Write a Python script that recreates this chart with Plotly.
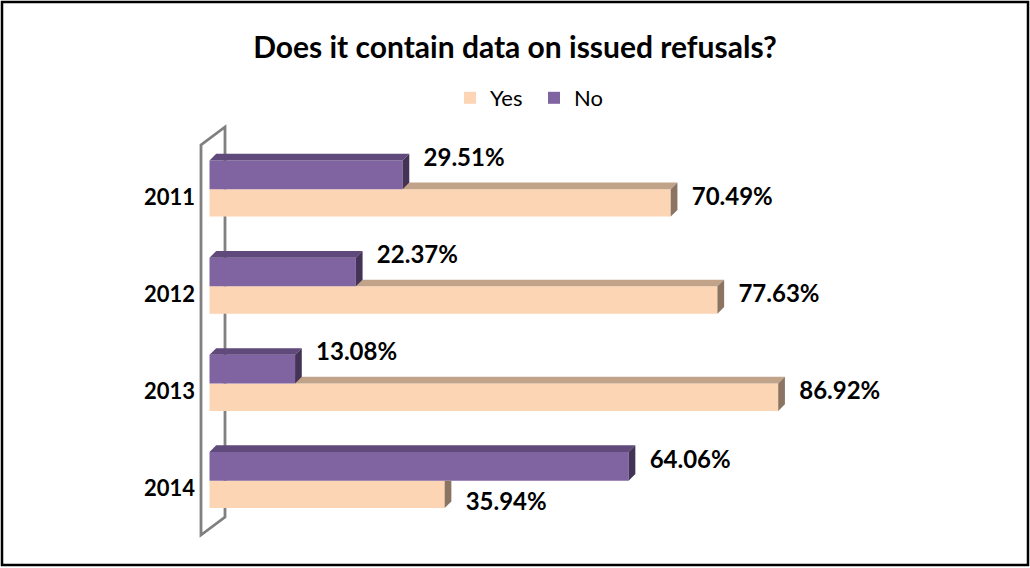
import plotly.graph_objects as go

# data
years = ["2011", "2012", "2013", "2014"]
yes = [70.49, 77.63, 86.92, 35.94]
no = [29.51, 22.37, 13.08, 64.06]

# colours
YES_FRONT, YES_TOP, YES_SIDE = "#FCD5B5", "#C1A38A", "#8B7562"
NO_FRONT, NO_TOP, NO_SIDE = "#8064A2", "#604A7B", "#433356"
FONT = "Lato"

# geometry (pixels)
W, H = 1030, 568
ML, MR, MT, MB = 196, 30, 92, 29
X0_PX = 209.5          # pixel where 0% sits
PX_X = 6.543           # px per percent
YTOP, YBOT = -1.0, 3.6
PX_Y = (H - MT - MB) / (YBOT - YTOP)
xmin = -(X0_PX - ML) / PX_X
xmax = xmin + (W - ML - MR) / PX_X

dx = 6.7 / PX_X        # 3d depth
dy = 6.7 / PX_Y
hn = 0.295             # bar thickness (No, above)
hy = 0.282             # bar thickness (Yes, below)

pos = list(range(len(years)))

fig = go.Figure()

fig.add_trace(go.Bar(name="Yes", orientation="h", y=pos, x=yes, width=hy, offset=0,
                     marker=dict(color=YES_FRONT, line=dict(width=0)), hoverinfo="skip"))
fig.add_trace(go.Bar(name="No", orientation="h", y=pos, x=no, width=hn, offset=-hn,
                     marker=dict(color=NO_FRONT, line=dict(width=0)), hoverinfo="skip"))


def poly_trace(xs, ys, color):
    return go.Scatter(x=xs, y=ys, mode="lines", fill="toself", fillcolor=color,
                      line=dict(width=0, color=color), showlegend=False, hoverinfo="skip")


# 3d faces, computed from the values
yt_x, yt_y, ys_x, ys_y = [], [], [], []
nt_x, nt_y, ns_x, ns_y = [], [], [], []
for p, v, n in zip(pos, yes, no):
    if n < v:
        yt_x += [n, v, v + dx, n, n, None]
        yt_y += [p, p, p - dy, p - dy, p, None]
        ys_x += [v, v + dx, v + dx, v, v, None]
        ys_y += [p, p - dy, p + hy - dy, p + hy, p, None]
    else:
        ys_x += [v, v + dx, v + dx, v, v, None]
        ys_y += [p, p, p + hy - dy, p + hy, p, None]
    top = p - hn
    nt_x += [0, n, n + dx, dx, 0, None]
    nt_y += [top, top, top - dy, top - dy, top, None]
    ns_x += [n, n + dx, n + dx, n, n, None]
    ns_y += [top, top - dy, p - dy, p, top, None]

fig.add_trace(poly_trace(yt_x, yt_y, YES_TOP))
fig.add_trace(poly_trace(ys_x, ys_y, YES_SIDE))
fig.add_trace(poly_trace(nt_x, nt_y, NO_TOP))
fig.add_trace(poly_trace(ns_x, ns_y, NO_SIDE))

# data labels
gap = 21 / PX_X
lab_no_y, lab_yes_y = [], []
for p, v, n in zip(pos, yes, no):
    cy_n = p - hn / 2 - 4 / PX_Y
    cy_y = p + hy / 2 - 4 / PX_Y
    if n < v:
        cy_n -= 11 / PX_Y
    else:
        cy_y += 14 / PX_Y
    lab_no_y.append(cy_n)
    lab_yes_y.append(cy_y)

lab_font = dict(family=FONT, size=24, color="black", weight="bold")
fig.add_trace(go.Scatter(x=[n + gap for n in no], y=lab_no_y, mode="text",
                         text=[f"{n:.2f}%" for n in no], textposition="middle right",
                         textfont=lab_font, showlegend=False, hoverinfo="skip"))
fig.add_trace(go.Scatter(x=[v + gap for v in yes], y=lab_yes_y, mode="text",
                         text=[f"{v:.2f}%" for v in yes], textposition="middle right",
                         textfont=lab_font, showlegend=False, hoverinfo="skip"))

# side wall
wl = (201 - X0_PX) / PX_X
wr = (225 - X0_PX) / PX_X
wt = (145 - MT) / PX_Y + YTOP
wb = (535 - MT) / PX_Y + YTOP
wdy = 18 / PX_Y
wall = dict(type="path", xref="x", yref="y", layer="below",
            path=f"M{wl},{wb} L{wl},{wt} L{wr},{wt - wdy} L{wr},{wb - wdy} Z",
            line=dict(color="#808080", width=2.8))

# outer border in paper coords (paper y=0 at the bottom of the plot area)
pw, ph = W - ML - MR, H - MT - MB
border = dict(type="rect", xref="paper", yref="paper",
              x0=(2 - ML) / pw, x1=(1028 - ML) / pw,
              y0=(H - MB - 565) / ph, y1=(H - MB - 2) / ph,
              line=dict(color="black", width=2.5))

fig.update_layout(
    width=W, height=H,
    margin=dict(l=ML, r=MR, t=MT, b=MB, autoexpand=False),
    paper_bgcolor="white", plot_bgcolor="rgba(0,0,0,0)",
    barmode="overlay",
    title=dict(text="Does it contain data on issued refusals?", x=0.5, xref="container",
               y=1 - 47 / H, yref="container", xanchor="center", yanchor="middle",
               font=dict(family=FONT, size=30, color="black", weight="bold")),
    legend=dict(orientation="h", xref="container", yref="container",
                x=450 / W, y=1 - 98 / H, xanchor="left", yanchor="middle",
                font=dict(family=FONT, size=22, color="black"),
                entrywidth=39, entrywidthmode="pixels",
                traceorder="normal", itemclick=False),
    xaxis=dict(range=[xmin, xmax], visible=False, fixedrange=True),
    yaxis=dict(range=[YBOT, YTOP], tickmode="array", tickvals=[p + 8 / PX_Y for p in pos],
               ticktext=years, showgrid=False, zeroline=False, showline=False, ticks="",
               tickfont=dict(family=FONT, size=22, color="black", weight="bold"),
               fixedrange=True),
    shapes=[wall, border],
    showlegend=True,
)

# drop the default page margin so the figure sits at the window origin
fig.write_html("out.html", config={"displayModeBar": False},
               post_script="document.body.style.margin='0';")
